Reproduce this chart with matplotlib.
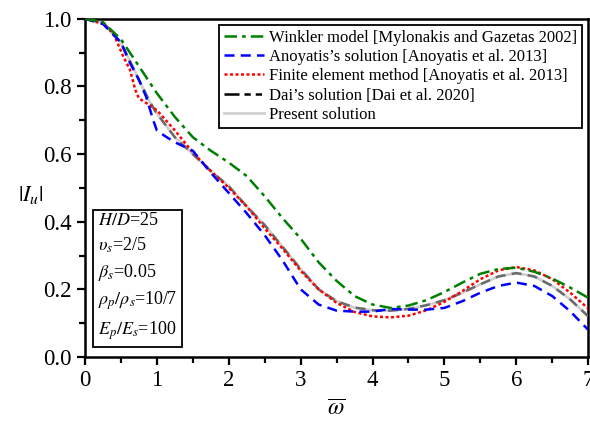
import matplotlib
matplotlib.use("Agg")
import matplotlib.pyplot as plt
from matplotlib.lines import Line2D

# -----------------------------
# Data
# -----------------------------
x_winkler = [0, 0.25, 0.5, 0.75, 1.0, 1.25, 1.5, 1.75, 2.0, 2.25, 2.5, 2.75, 3.0, 3.25, 3.5,
             3.75, 4.0, 4.25, 4.5, 4.75, 5.0, 5.25, 5.5, 5.75, 6.0, 6.25, 6.5, 6.75, 7.0]
y_winkler = [1.0, 0.99, 0.94, 0.86, 0.78, 0.71, 0.65, 0.61, 0.575, 0.535, 0.475, 0.41, 0.35, 0.28, 0.225,
             0.18, 0.155, 0.145, 0.152, 0.168, 0.192, 0.22, 0.246, 0.26, 0.264, 0.252, 0.232, 0.205, 0.175]

x_anoyatis = [0, 0.25, 0.5, 0.625, 0.75, 0.85, 0.95, 1.0, 1.1, 1.25, 1.5, 1.75, 2.0, 2.25, 2.5, 2.75,
              3.0, 3.25, 3.5, 3.75, 4.0, 4.25, 4.5, 4.75, 5.0, 5.25, 5.5, 5.75, 6.0, 6.25, 6.5, 6.75, 7.0]
y_anoyatis = [1.0, 0.985, 0.93, 0.87, 0.82, 0.77, 0.70, 0.67, 0.655, 0.635, 0.61, 0.545, 0.485, 0.425, 0.36, 0.285,
              0.20, 0.155, 0.137, 0.134, 0.134, 0.142, 0.14, 0.14, 0.145, 0.165, 0.19, 0.21, 0.22, 0.21, 0.18, 0.135, 0.08]

x_fem = [0, 0.25, 0.4, 0.53, 0.625, 0.7, 0.75, 0.86, 1.0, 1.25, 1.5, 1.75, 2.0, 2.25, 2.5, 2.75, 3.0,
         3.25, 3.5, 3.75, 4.0, 4.25, 4.5, 4.75, 5.0, 5.25, 5.5, 5.75, 6.0, 6.25, 6.5, 6.75, 7.0]
y_fem = [1.0, 0.985, 0.955, 0.89, 0.85, 0.79, 0.765, 0.75, 0.73, 0.67, 0.605, 0.55, 0.5, 0.445, 0.38, 0.32, 0.255,
         0.2, 0.16, 0.133, 0.12, 0.117, 0.122, 0.138, 0.163, 0.195, 0.23, 0.256, 0.266, 0.256, 0.23, 0.19, 0.143]

x_present = [0, 0.25, 0.5, 0.75, 0.9, 1.0, 1.25, 1.5, 1.75, 2.0, 2.25, 2.5, 2.75, 3.0, 3.25, 3.5,
             3.75, 4.0, 4.25, 4.5, 4.75, 5.0, 5.25, 5.5, 5.75, 6.0, 6.25, 6.5, 6.75, 7.0]
y_present = [1.0, 0.99, 0.93, 0.82, 0.755, 0.72, 0.65, 0.6, 0.55, 0.505, 0.445, 0.39, 0.325, 0.26, 0.2, 0.165,
             0.146, 0.138, 0.137, 0.142, 0.153, 0.168, 0.19, 0.215, 0.238, 0.248, 0.238, 0.21, 0.17, 0.12]

x_dai = list(x_present)
y_dai = list(y_present)

params_text = ("$H/D$=25\n"
               "$\\upsilon_s$=2/5\n"
               "$\\beta_s$=0.05\n"
               "$\\rho_p/\\rho_s$=10/7\n"
               "$E_p/E_s$=100")

# -----------------------------
# Style
# -----------------------------
plt.rcParams["font.family"] = ["Liberation Serif", "DejaVu Serif"]
plt.rcParams["mathtext.fontset"] = "stix"

fig = plt.figure(figsize=(5.9, 4.28), dpi=100)
ax = fig.add_axes([0.144, 0.166, 0.853, 0.790])

ax.plot(x_present, y_present, color="#d0d0d0", lw=2.0, zorder=2)
ax.plot(x_dai, y_dai, color="#6a6a6a", lw=1.8, dashes=(4, 2.5), zorder=3)
ax.plot(x_fem, y_fem, color="red", lw=1.8, dashes=(1.2, 1.0), zorder=4)
ax.plot(x_anoyatis, y_anoyatis, color="blue", lw=1.8, dashes=(4, 2.5), zorder=4)
ax.plot(x_winkler, y_winkler, color="green", lw=1.8, dashes=(5, 2, 1.5, 2), zorder=4)

handles = [
    Line2D([], [], color="green", lw=1.8, dashes=(5, 2, 1.5, 2)),
    Line2D([], [], color="blue", lw=1.8, dashes=(4, 2.5)),
    Line2D([], [], color="red", lw=1.8, dashes=(1.2, 1.0)),
    Line2D([], [], color="black", lw=1.8, dashes=(6, 2, 2.5, 2, 2.5, 2)),
    Line2D([], [], color="#d0d0d0", lw=2.0),
]
labels = ["Winkler model [Mylonakis and Gazetas 2002]",
          "Anoyatis\u2019s solution [Anoyatis et al. 2013]",
          "Finite element method [Anoyatis et al. 2013]",
          "Dai\u2019s solution [Dai et al. 2020]",
          "Present solution"]
leg = ax.legend(handles, labels, loc="upper right", fontsize=12, fancybox=False,
                edgecolor="black", framealpha=1, handlelength=2.4, handletextpad=0.3,
                labelspacing=0.2, borderpad=0.3, borderaxespad=0.35)
leg.get_frame().set_linewidth(1.3)

ax.text(0.026, 0.045, params_text, transform=ax.transAxes, fontsize=13,
        va="bottom", ha="left", linespacing=1.45,
        bbox=dict(boxstyle="square,pad=0.3", fc="white", ec="black", lw=1.3))

ax.set_xlim(0, 7)
ax.set_ylim(0, 1.0)
ax.set_xticks(range(0, 8))
ax.set_yticks([0.0, 0.2, 0.4, 0.6, 0.8, 1.0])
ax.set_yticklabels(["0.0", "0.2", "0.4", "0.6", "0.8", "1.0"])
ax.set_xticks([0.5 + i for i in range(7)], minor=True)
ax.set_yticks([0.1, 0.3, 0.5, 0.7, 0.9], minor=True)
ax.tick_params(which="major", direction="out", length=6, width=1.6, labelsize=16.5)
ax.tick_params(which="minor", direction="out", length=4, width=1.6)
for s in ax.spines.values():
    s.set_linewidth(1.8)

ax.set_xlabel("$\\overline{\\omega}$", fontsize=17, labelpad=6)
ax.set_ylabel("$|I_u|$", fontsize=16, rotation=0, va="center", ha="center")
ax.yaxis.set_label_coords(-0.108, 0.48)

fig.savefig("out.png", dpi=100)
plt.close(fig)
